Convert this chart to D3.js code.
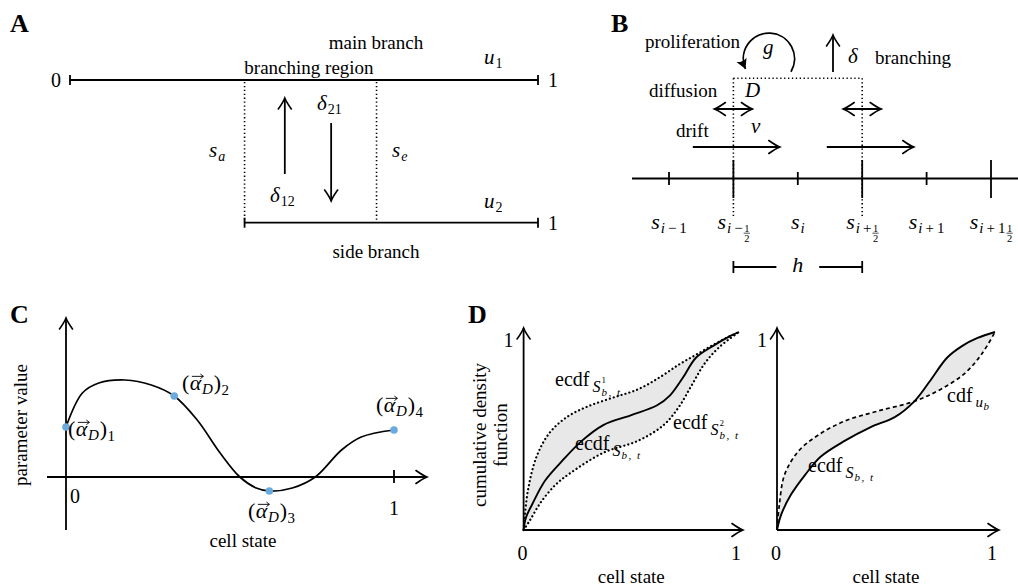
<!DOCTYPE html>
<html><head><meta charset="utf-8">
<script src="https://cdn.jsdelivr.net/npm/d3@7"></script>
<style>
html,body{margin:0;padding:0;background:#fff;}
svg, svg text{font-family:"Liberation Serif","DejaVu Serif",serif;}
</style></head><body>
<svg id="fig" width="1018" height="586" font-family="Liberation Serif, DejaVu Serif, serif"></svg>
<script>
// ---------- data ----------
// Panel A: branch geometry on the unit cell-state interval
const branchStart = 0.373;   // s_a
const branchEnd = 0.655;     // s_e
const upArrowAt = 0.459;
const downArrowAt = 0.558;

// Panel B: finite-volume grid, half-step index -> label
const gridIdx = [0, 1, 2, 3, 4, 5];
const gridMajor = [false, true, false, true, false, true];
const gridSub = ["i\u2009\u2212\u20091", "i\u2009\u2212", "i", "i\u2009+", "i\u2009+\u20091", "i\u2009+\u20091"];
const gridFrac = [false, true, false, true, false, true];

// Panel C: parameter spline over cell state
const cState = [0, 0.05, 0.10, 0.18, 0.26, 0.33, 0.40, 0.47, 0.53, 0.58, 0.62, 0.69, 0.76, 0.84, 0.90, 1.0];
const cValue = [0.50, 0.84, 0.94, 0.97, 0.92, 0.81, 0.57, 0.24, 0.0, -0.11, -0.14, -0.11, 0.0, 0.27, 0.40, 0.47];
const cKnots = [0, 5, 10, 15];
const cKnotNames = ["1", "2", "3", "4"];

// Panel D (left): empirical CDFs
const s1State = [0, 0.02, 0.06, 0.12, 0.20, 0.30, 0.42, 0.53, 0.63, 0.72, 0.80, 0.88, 0.95, 1];
const s1Cdf   = [0, 0.20, 0.37, 0.49, 0.57, 0.625, 0.67, 0.71, 0.77, 0.835, 0.885, 0.935, 0.975, 1];
const s2State = [0, 0.03, 0.08, 0.15, 0.22, 0.37, 0.53, 0.65, 0.72, 0.78, 0.84, 0.91, 1];
const s2Cdf   = [0, 0.05, 0.14, 0.23, 0.29, 0.39, 0.45, 0.53, 0.62, 0.73, 0.84, 0.925, 1];
const sState  = [0, 0.01, 0.04, 0.10, 0.18, 0.27, 0.37, 0.50, 0.62, 0.68, 0.74, 0.80, 0.88, 0.96, 1];
const sCdf    = [0, 0.06, 0.13, 0.25, 0.35, 0.45, 0.53, 0.58, 0.63, 0.68, 0.77, 0.87, 0.93, 0.98, 1];

// Panel D (right): empirical vs target CDF
const eState = [0, 0.02, 0.065, 0.13, 0.20, 0.31, 0.43, 0.54, 0.63, 0.70, 0.78, 0.85, 0.92, 1];
const eCdf   = [0, 0.08, 0.18, 0.28, 0.37, 0.45, 0.52, 0.57, 0.65, 0.75, 0.87, 0.93, 0.97, 1];
const uState = [0, 0.01, 0.035, 0.10, 0.19, 0.31, 0.46, 0.63, 0.75, 0.86, 0.94, 1];
const uCdf   = [0, 0.12, 0.28, 0.40, 0.48, 0.55, 0.60, 0.65, 0.71, 0.79, 0.89, 1];

// ---------- setup ----------
const FONT = "Liberation Serif, DejaVu Serif, serif";
const svg = d3.select("#fig");
svg.append("rect").attr("width", 1018).attr("height", 586).attr("fill", "#fff");
const INK = "#000", LW = 1.8;
const defs = svg.append("defs");
defs.append("marker").attr("id", "open").attr("viewBox", "-13 -8 15 16")
  .attr("markerUnits", "userSpaceOnUse").attr("markerWidth", 15).attr("markerHeight", 16)
  .attr("refX", 0).attr("refY", 0).attr("orient", "auto-start-reverse")
  .append("path").attr("d", "M-11,-6.5 Q-4,-1.5 0,0 Q-4,1.5 -11,6.5")
  .attr("fill", "none").attr("stroke", INK).attr("stroke-width", 1.6).attr("stroke-linecap", "round");
defs.append("marker").attr("id", "solid").attr("viewBox", "-12 -7 14 14")
  .attr("markerUnits", "userSpaceOnUse").attr("markerWidth", 14).attr("markerHeight", 14)
  .attr("refX", 0).attr("refY", 0).attr("orient", "auto")
  .append("path").attr("d", "M-10,-5.5 L0,0 L-10,5.5 Q-7,0 -10,-5.5Z").attr("fill", INK);

function seg(g, x1, y1, x2, y2, w) {
  return g.append("line").attr("x1", x1).attr("y1", y1).attr("x2", x2).attr("y2", y2)
    .attr("stroke", INK).attr("stroke-width", w || LW);
}
function arrow(g, x1, y1, x2, y2, both) {
  const l = seg(g, x1, y1, x2, y2).attr("marker-end", "url(#open)");
  if (both) l.attr("marker-start", "url(#open)");
  return l;
}
function dotted(g, x1, y1, x2, y2) {
  return seg(g, x1, y1, x2, y2, 1.6).attr("stroke-dasharray", "1.3 2.6");
}
function txt(g, x, y, s, size, anchor, italic) {
  return g.append("text").attr("x", x).attr("y", y).attr("font-size", size || 19)
    .attr("font-family", FONT)
    .attr("text-anchor", anchor || "start").attr("font-style", italic ? "italic" : null).text(s);
}
// small typesetter: base letters, sub/superscripts, fractions and vector arrows
function math(parent, x, y, parts, anchor) {
  const g = parent.append("g");
  let cx = 0, last = 0;
  parts.forEach(p => {
    const size = p.size || 20, dy = p.dy || 0;
    const x0 = p.stack ? last : cx + (p.dx || 0);
    if (p.frac) {
      const n = txt(g, x0, dy - 3.5, p.frac[0], size);
      const d = txt(g, x0, dy + 7, p.frac[1], size);
      const w = Math.max(n.node().getComputedTextLength(), d.node().getComputedTextLength());
      seg(g, x0 - 0.5, dy - 1.8, x0 + w + 0.5, dy - 1.8, 0.7);
      last = x0; cx = Math.max(cx, x0 + w);
      return;
    }
    const t = txt(g, x0, dy, p.t, size, "start", p.it);
    if (p.ls) t.attr("letter-spacing", p.ls);
    const w = t.node().getComputedTextLength();
    if (p.vec) {
      const ya = dy - size * 0.62, xa = x0 + 2, xb = x0 + w + 2;
      seg(g, xa, ya, xb, ya, 0.9);
      g.append("path").attr("d", `M${xb - 3},${ya - 2.3} L${xb},${ya} L${xb - 3},${ya + 2.3}`)
        .attr("fill", "none").attr("stroke", INK).attr("stroke-width", 0.9);
    }
    if (!p.stack) last = x0;
    cx = Math.max(cx, x0 + w);
  });
  const shift = anchor === "middle" ? -cx / 2 : anchor === "end" ? -cx : 0;
  g.attr("transform", `translate(${x + shift},${y})`);
  return g;
}
function panelLetter(x, y, s) {
  txt(svg, x, y, s, 26).attr("font-weight", "bold");
}

// ---------- Panel A: branch geometry ----------
(function () {
  const g = svg.append("g");
  const xA = d3.scaleLinear([0, 1], [70, 538]);
  const yMain = 80, ySide = 222.7;
  panelLetter(10, 32, "A");
  seg(g, xA(0), yMain, xA(1), yMain);
  [0, 1].forEach(v => seg(g, xA(v), yMain - 5, xA(v), yMain + 5));
  seg(g, xA(branchStart), ySide, xA(1), ySide);
  [branchStart, 1].forEach(v => seg(g, xA(v), ySide - 5, xA(v), ySide + 5));
  [branchStart, branchEnd].forEach(v => dotted(g, xA(v), yMain + 2, xA(v), ySide - 2));
  arrow(g, xA(upArrowAt), 174, xA(upArrowAt), 98);
  arrow(g, xA(downArrowAt), 123, xA(downArrowAt), 201);
  txt(g, 61, 87, "0", 20, "end");
  txt(g, 548, 87, "1", 20);
  txt(g, 548, 230, "1", 20);
  txt(g, 376, 49, "main branch", 19, "middle");
  txt(g, 309, 73.5, "branching region", 19, "middle");
  txt(g, 376, 258, "side branch", 19, "middle");
  math(g, 484, 64, [{t: "u", it: true, size: 21}, {t: "1", size: 14, dy: 4, dx: 1}]);
  math(g, 484, 208, [{t: "u", it: true, size: 21}, {t: "2", size: 14, dy: 4, dx: 1}]);
  math(g, 317, 110, [{t: "δ", it: true, size: 21}, {t: "21", size: 14, dy: 4, dx: 1}]);
  math(g, 270, 202, [{t: "δ", it: true, size: 21}, {t: "12", size: 14, dy: 4, dx: 1}]);
  math(g, 209, 157, [{t: "s", it: true, size: 21}, {t: "a", it: true, size: 14, dy: 4, dx: 1}]);
  math(g, 392, 157, [{t: "s", it: true, size: 21}, {t: "e", it: true, size: 14, dy: 4, dx: 1}]);
})();

// ---------- Panel B: discretisation ----------
(function () {
  const g = svg.append("g");
  const xB = d3.scaleLinear([0, 5], [669, 991]);
  const yAx = 178.5;
  panelLetter(611, 32, "B");
  seg(g, 632, yAx, 1018, yAx);
  gridIdx.forEach((k, i) => {
    if (gridMajor[i]) seg(g, xB(k), yAx - 18.5, xB(k), yAx + 19.5);
    else seg(g, xB(k), yAx - 6.5, xB(k), yAx + 6.5);
    const parts = [{t: "s", it: true, size: 22}];
    const sub = gridSub[i];
    // italic index letter followed by upright operators/digits
    parts.push({t: "i", it: true, size: 15, dy: 4, dx: 1});
    if (sub.length > 1) parts.push({t: sub.slice(1), size: 15, dy: 4});
    if (gridFrac[i]) parts.push({frac: ["1", "2"], size: 10.5, dy: 6, dx: 1.5});
    math(g, xB(k), 229, parts, "middle");
  });
  // dotted control volume
  const top = 78.3, bot = 218;
  dotted(g, xB(1), top, xB(3), top);
  dotted(g, xB(1), top, xB(1), bot);
  dotted(g, xB(3), top, xB(3), bot);
  // diffusion
  [1, 3].forEach(k => arrow(g, xB(k) - 19, 109, xB(k) + 19, 109, true));
  // drift
  [0.37, 2.45].forEach(k => arrow(g, xB(k), 147, xB(k) + 87, 147));
  // branching
  arrow(g, 833, 72, 833, 35);
  // proliferation loop
  g.append("path").attr("d", "M791,71.7 A25.6,25.6 0 1 0 745.5,69")
    .attr("fill", "none").attr("stroke", INK).attr("stroke-width", LW).attr("marker-end", "url(#solid)");
  // cell width h
  const yh = 267;
  seg(g, xB(1), yh, xB(1) + 43, yh);
  seg(g, xB(3) - 43, yh, xB(3), yh);
  [1, 3].forEach(k => seg(g, xB(k), yh - 6, xB(k), yh + 6));
  txt(g, xB(2), 272, "h", 22, "middle", true);
  txt(g, 645, 48, "proliferation", 19);
  txt(g, 763, 54, "g", 21, "start", true);
  txt(g, 848, 63, "δ", 21, "start", true);
  txt(g, 875, 64, "branching", 19);
  txt(g, 649, 97, "diffusion", 19);
  txt(g, 745, 97, "D", 21, "start", true);
  txt(g, 676, 137, "drift", 19);
  txt(g, 751, 133, "v", 21, "start", true);
})();

// ---------- Panel C: parameter spline ----------
(function () {
  const g = svg.append("g");
  const xC = d3.scaleLinear([0, 1], [66, 394]);
  const yC = d3.scaleLinear([0, 1], [477, 377]);
  panelLetter(10, 323, "C");
  arrow(g, xC(0), 530, xC(0), 318);
  arrow(g, 47, yC(0), 427, yC(0));
  seg(g, xC(1), yC(0) - 7, xC(1), yC(0) + 6);
  txt(g, 75, 503, "0", 20, "middle");
  txt(g, xC(1), 515, "1", 20, "middle");
  txt(g, 243, 547, "cell state", 19, "middle");
  txt(g, 0, 0, "parameter value", 19, "middle").attr("transform", "translate(26.5,425) rotate(-90)");
  const pts = cState.map((s, i) => [s, cValue[i]]);
  const line = d3.line().x(d => xC(d[0])).y(d => yC(d[1])).curve(d3.curveCatmullRom.alpha(0.5));
  g.append("path").attr("d", line(pts)).attr("fill", "none").attr("stroke", INK).attr("stroke-width", 1.7);
  g.selectAll("circle.knot").data(cKnots).join("circle").attr("class", "knot")
    .attr("cx", i => xC(cState[i])).attr("cy", i => yC(cValue[i])).attr("r", 3.8).attr("fill", "#6aaade");
  const labelPos = [[68, 436], [182, 390], [248, 518], [376, 412]];
  cKnotNames.forEach((n, j) => {
    math(g, labelPos[j][0], labelPos[j][1], [
      {t: "(", size: 22}, {t: "α", it: true, size: 22, vec: true, dx: 0.5},
      {t: "D", it: true, size: 15, dy: 4, dx: 0.5}, {t: ")", size: 22, dx: 1},
      {t: n, size: 15, dy: 5, dx: 0.5}
    ]);
  });
})();

// ---------- Panel D: CDF comparisons ----------
(function () {
  const g = svg.append("g");
  panelLetter(468, 323, "D");
  const yD = d3.scaleLinear([0, 1], [530, 332]);
  const xL = d3.scaleLinear([0, 1], [523.6, 739]);
  const xR = d3.scaleLinear([0, 1], [777, 995]);
  const curve = d3.curveCatmullRom.alpha(0.5);
  const mk = (xs, st, cd) => d3.line().x(d => xs(d[0])).y(d => yD(d[1])).curve(curve)(st.map((s, i) => [s, cd[i]]));
  const band = (xs, aS, aC, bS, bC) => {
    const up = mk(xs, aS, aC);
    const lo = mk(xs, bS.slice().reverse(), bC.slice().reverse());
    return up + "L" + lo.slice(1) + "Z";
  };
  // left
  g.append("path").attr("d", band(xL, s1State, s1Cdf, s2State, s2Cdf)).attr("fill", "#e8e8e8");
  [[s1State, s1Cdf], [s2State, s2Cdf]].forEach(([st, cd]) =>
    g.append("path").attr("d", mk(xL, st, cd)).attr("fill", "none").attr("stroke", INK)
      .attr("stroke-width", 2.2).attr("stroke-dasharray", "0.1 4").attr("stroke-linecap", "round"));
  g.append("path").attr("d", mk(xL, sState, sCdf)).attr("fill", "none").attr("stroke", INK).attr("stroke-width", 1.9);
  // right
  g.append("path").attr("d", band(xR, eState, eCdf, uState, uCdf)).attr("fill", "#e8e8e8");
  g.append("path").attr("d", mk(xR, uState, uCdf)).attr("fill", "none").attr("stroke", INK)
    .attr("stroke-width", 1.7).attr("stroke-dasharray", "4 3");
  g.append("path").attr("d", mk(xR, eState, eCdf)).attr("fill", "none").attr("stroke", INK).attr("stroke-width", 1.9);
  // axes
  [xL, xR].forEach(xs => {
    arrow(g, xs(0), yD(0), xs(0), 328);
    arrow(g, xs(0), yD(0), xs(1) + 4, yD(0));
    txt(g, xs(0) - 1, 560, "0", 20, "middle");
    txt(g, xs(1) - 3, 560, "1", 20, "middle");
    txt(g, xs(0) - 15, 347, "1", 20, "middle");
    txt(g, (xs(0) + xs(1)) / 2, 583, "cell state", 19, "middle");
  });
  txt(g, 0, 0, "cumulative density", 19, "middle").attr("transform", "translate(486,435) rotate(-90)");
  txt(g, 0, 0, "function", 19, "middle").attr("transform", "translate(507,435) rotate(-90)");
  // labels
  const sBT = [{t: "S", it: true, size: 16, dy: 6, dx: 3}, {t: "b, t", it: true, size: 11, dy: 9, dx: 1, ls: 1.5}];
  math(g, 555, 386, [{t: "ecdf", size: 20}, {t: "S", it: true, size: 16, dy: 6, dx: 3},
    {t: "1", size: 9, dy: -3, dx: 1}, {t: "b, t", it: true, size: 11, dy: 10, stack: true, ls: 1.5}]);
  math(g, 673, 429, [{t: "ecdf", size: 20}, {t: "S", it: true, size: 16, dy: 6, dx: 3},
    {t: "2", size: 9, dy: -3, dx: 1}, {t: "b, t", it: true, size: 11, dy: 10, stack: true, ls: 1.5}]);
  math(g, 575, 450, [{t: "ecdf", size: 20}].concat(sBT));
  math(g, 808, 472, [{t: "ecdf", size: 20}].concat(sBT));
  math(g, 947, 402, [{t: "cdf", size: 20}, {t: "u", it: true, size: 15, dy: 5, dx: 3}, {t: "b", it: true, size: 11, dy: 8, dx: 0.5}]);
})();
</script>
</body></html>
